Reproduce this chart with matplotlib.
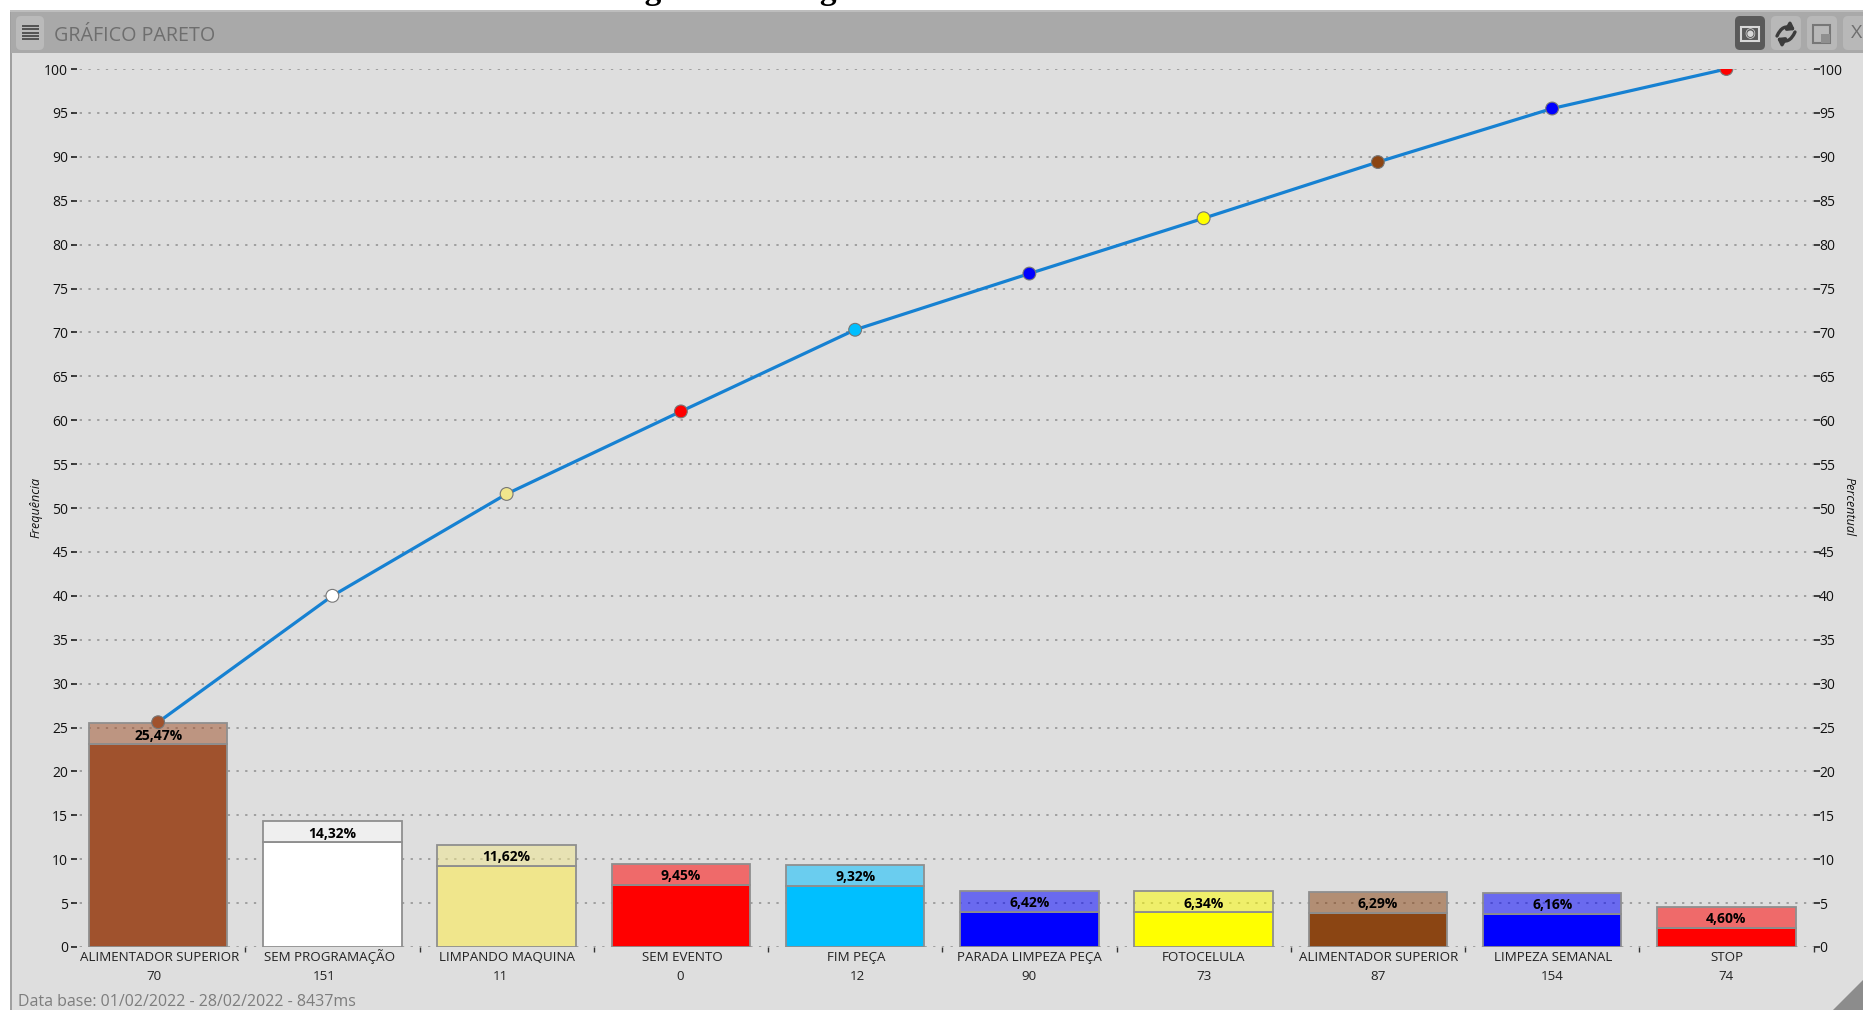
import matplotlib
matplotlib.use('Agg')
import matplotlib.pyplot as plt
from matplotlib.patches import FancyArrowPatch, FancyBboxPatch, Rectangle, Polygon

# --- dados do pareto ---
categorias = ['ALIMENTADOR SUPERIOR', 'SEM PROGRAMAÇÃO', 'LIMPANDO MAQUINA', 'SEM EVENTO', 'FIM PEÇA',
              'PARADA LIMPEZA PEÇA', 'FOTOCELULA', 'ALIMENTADOR SUPERIOR', 'LIMPEZA SEMANAL', 'STOP']
frequencias = [70, 151, 11, 0, 12, 90, 73, 87, 154, 74]
percentuais = [25.47, 14.32, 11.62, 9.45, 9.32, 6.42, 6.34, 6.29, 6.16, 4.60]
acumulado = [25.6, 40.0, 51.6, 61.0, 70.3, 76.7, 83.0, 89.4, 95.5, 100.0]
cores = ['#A0522D', '#FFFFFF', '#F0E68C', '#FF0000', '#00BFFF',
         '#0000FF', '#FFFF00', '#8B4513', '#0000FF', '#FF0000']

W, H = 1863, 1010
FUNDO = '#DEDEDE'
BARRA_TITULO = '#A9A9A9'
CINZA_TEXTO = '#6E6E6E'
ALTURA_FAIXA = 2.4   # faixa translucida onde fica o rotulo

plt.rcParams['font.family'] = ['Open Sans', 'DejaVu Sans']

fig = plt.figure(figsize=(W / 100, H / 100), dpi=100, facecolor='white')


def fx(px):
    return px / W


def fy(py):
    return 1 - py / H


# janela e barra de titulo (atras dos eixos)
fig.add_artist(Rectangle((fx(11), 0), fx(W - 11), fy(11), transform=fig.transFigure,
                         fc=FUNDO, ec='none', zorder=-5))
fig.add_artist(Rectangle((fx(10), 0), fx(2), fy(11), transform=fig.transFigure,
                         fc='#A0A0A0', ec='none', zorder=-4))
fig.add_artist(Rectangle((fx(11), fy(53)), fx(W - 11), fy(11) - fy(53), transform=fig.transFigure,
                         fc=BARRA_TITULO, ec='none', zorder=-4))
fig.add_artist(Rectangle((fx(10), fy(12)), fx(W - 10), 1.5 / H, transform=fig.transFigure,
                         fc='#BDBDBD', ec='none', zorder=-3))

# legenda do documento, cortada na borda superior
fig.text(fx(615), fy(-1), 'Figura 6 – Diagrama', family='Liberation Serif', weight='bold',
         fontsize=24, ha='left', va='baseline', color='black')
fig.text(fx(54), fy(36), 'GRÁFICO PARETO', fontsize=14.2, color=CINZA_TEXTO, va='center')
fig.text(fx(18), fy(1002), 'Data base: 01/02/2022 - 28/02/2022 - 8437ms', fontsize=11.5,
         color='#7D7D7D', va='center')


# botoes da barra de titulo
def botao(x, w, cor):
    fig.add_artist(FancyBboxPatch((x + 3, H - 47), w - 6, 28, boxstyle='round,pad=3,rounding_size=5',
                                  transform=None, fc=cor, ec='none', zorder=-2))


botao(16, 28, '#BABABA')
for i in range(5):
    fig.add_artist(Rectangle((22, H - 40 + i * 3.2), 17, 2, transform=None, fc='#555555', ec='none'))
botao(1735, 30, '#5A5A5A')
fig.add_artist(Rectangle((1741, H - 41), 18, 14, transform=None, fc='#5A5A5A', ec='#D8D8D8', lw=1.5))
fig.text(fx(1750), fy(34), '◉', fontsize=9, color='#D8D8D8', ha='center', va='center')
botao(1771, 30, '#B8B8B8')
# icone de atualizar: dois arcos com seta
fig.add_artist(FancyArrowPatch((1777, H - 36), (1795, H - 30), connectionstyle='arc3,rad=-0.55',
                               arrowstyle='-|>,head_length=3.5,head_width=2.5', transform=None,
                               color='#3C3C3C', lw=2.4, shrinkA=0, shrinkB=0))
fig.add_artist(FancyArrowPatch((1795, H - 32), (1777, H - 38), connectionstyle='arc3,rad=-0.55',
                               arrowstyle='-|>,head_length=3.5,head_width=2.5', transform=None,
                               color='#3C3C3C', lw=2.4, shrinkA=0, shrinkB=0))
botao(1807, 30, '#B8B8B8')
fig.add_artist(Rectangle((1813, H - 43), 17, 18, transform=None, fc='#B8B8B8', ec='#777777', lw=1.5))
fig.add_artist(Rectangle((1821, H - 43), 9, 9, transform=None, fc='#8F8F8F', ec='none'))
botao(1843, 30, '#B8B8B8')
fig.text(fx(1857), fy(33), 'X', fontsize=14, color=CINZA_TEXTO, ha='center', va='center')

# triangulo de redimensionar no canto
fig.add_artist(Polygon([(W - 30, 0), (W, 0), (W, 30)], closed=True, transform=None,
                       fc='#8C8C8C', ec='none', zorder=-2))

# area do grafico
ax = fig.add_axes([fx(71), fy(947), fx(1813.5 - 71), fy(69) - fy(947)], facecolor='none')
ax.set_xlim(-0.5, 9.5)
ax.set_ylim(0, 100)
ax.set_yticks(range(0, 101, 5))
ax.set_axisbelow(True)
ax.grid(axis='y', linestyle=(0, (1.5, 4.2)), color='#8E8E8E', linewidth=1.1)
for lado in ax.spines.values():
    lado.set_visible(False)

pos = list(range(len(categorias)))
base = [p - ALTURA_FAIXA for p in percentuais]
ax.bar(pos, base, width=0.795, color=cores, edgecolor='#8F8F8F', linewidth=1.3, zorder=2)
ax.bar(pos, [ALTURA_FAIXA] * len(pos), bottom=base, width=0.795, color=cores, alpha=0.52,
       edgecolor='none', zorder=2)
ax.bar(pos, [ALTURA_FAIXA] * len(pos), bottom=base, width=0.795, fill=False,
       edgecolor='#8F8F8F', linewidth=1.3, zorder=2)

for x, b, p in zip(pos, base, percentuais):
    ax.text(x, b + ALTURA_FAIXA / 2 - 0.2, f'{p:.2f}%'.replace('.', ','), ha='center', va='center',
            fontsize=10, fontweight='bold', color='black', zorder=5)

ax.plot(pos, acumulado, color='#1681D2', linewidth=2.3, zorder=3)
ax.scatter(pos, acumulado, s=85, c=cores, edgecolors='#777777', linewidths=0.8, zorder=4)

# ticks do eixo x entre as categorias, nomes e frequencias abaixo
ax.set_xticks([p + 0.5 for p in pos])
ax.set_xticklabels([])
ax.tick_params(axis='x', length=3.5, width=1, color='#333333', pad=2)
ax.tick_params(axis='y', direction='in', length=4, width=1.2, color='#222222', labelsize=10, pad=2,
               labelcolor='#111111')

desvio_nome = [1, -3, 0, 1, 1, 0, 0, 1, 1, 1]
desvio_freq = [-4, -8, -6, -1, 2, 0, 0, 0, 0, 0]
for x, nome, freq, dn, df in zip(pos, categorias, frequencias, desvio_nome, desvio_freq):
    ax.annotate(nome, (x, 0), xytext=(dn, -14), xycoords='data', textcoords='offset pixels',
                ha='center', va='baseline', fontsize=9.6, color='#222222', annotation_clip=False)
    ax.annotate(str(freq), (x, 0), xytext=(df, -33), xycoords='data', textcoords='offset pixels',
                ha='center', va='baseline', fontsize=9.6, color='#222222', annotation_clip=False)

ax2 = ax.twinx()
ax2.set_ylim(0, 100)
ax2.set_yticks(range(0, 101, 5))
ax2.tick_params(axis='y', length=4, width=1.2, color='#222222', labelsize=10, pad=0,
                labelcolor='#111111')
for lado in ax2.spines.values():
    lado.set_visible(False)
ax2.patch.set_visible(False)

fig.text(fx(36), fy(507), 'Frequência', rotation=90, style='italic', fontsize=9, ha='center',
         va='center', color='#111111')
fig.text(fx(1849), fy(507), 'Percentual', rotation=270, style='italic', fontsize=9, ha='center',
         va='center', color='#111111')

fig.savefig('out.png', dpi=100, facecolor='white')
